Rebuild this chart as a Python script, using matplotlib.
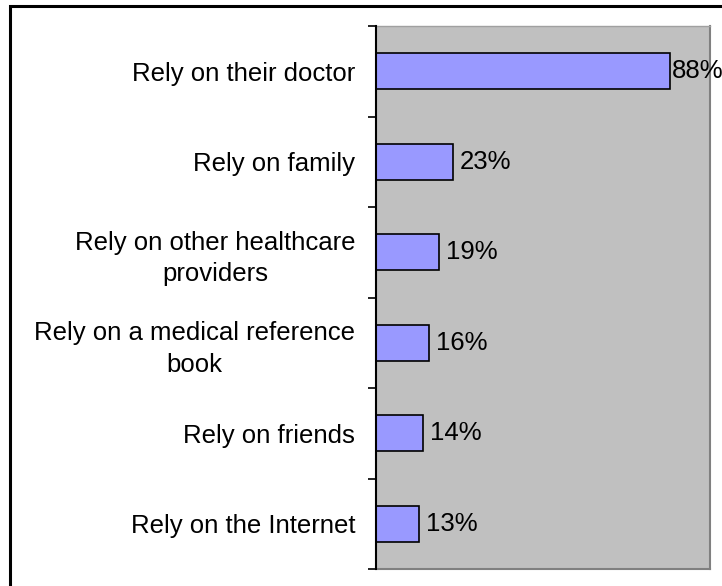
import matplotlib.pyplot as plt
import matplotlib.patches as patches
import numpy as np

plt.rcParams["font.family"] = ["Liberation Sans", "DejaVu Sans"]

# Sources people rely on for health information (share of respondents)
categories = [
    "Rely on their doctor",
    "Rely on family",
    "Rely on other healthcare\nproviders",
    "Rely on a medical reference\nbook",
    "Rely on friends",
    "Rely on the Internet",
]
shares = [0.88, 0.23, 0.19, 0.16, 0.14, 0.13]
share_labels = ["88%", "23%", "19%", "16%", "14%", "13%"]

W, H = 722, 586
fig = plt.figure(figsize=(W / 100, H / 100), dpi=100)

# outer chart frame (runs past the right/bottom edge)
fig.patches.append(patches.Rectangle((10 / W, -0.1), 1.2, 1 - 6 / H + 0.1,
                                     transform=fig.transFigure, fill=False,
                                     edgecolor="black", lw=2.2))

ax = fig.add_axes([376 / W, 1 - 569 / H, (710 - 376) / W, (569 - 26) / H])
ax.set_facecolor("#C0C0C0")

n = len(categories)
y = np.arange(n)[::-1]
ax.barh(y, shares, height=0.4, color="#9999FF", edgecolor="black", lw=1.2,
        zorder=3)
for yi, v, lab in zip(y, shares, share_labels):
    # long bars: tuck the label in close so it stays on the canvas
    dx = 1.5 if v > 0.8 else 5
    ax.annotate(lab, (v, yi), xytext=(dx, 0), textcoords="offset points",
                va="center", ha="left", fontsize=18.5, zorder=4)

ax.set_xlim(0, 1.0)
ax.set_ylim(-0.5, n - 0.5)
ax.set_xticks([])

ax.set_yticks(y)
ax.set_yticklabels(categories, fontsize=18.5, ha="right",
                   multialignment="center", linespacing=1.4)
ax.tick_params(axis="y", which="major", length=0, pad=15)
ax.set_yticks(np.arange(n + 1) - 0.5, minor=True)
ax.tick_params(axis="y", which="minor", length=6, width=1.2, color="black",
               direction="out")

ax.spines["left"].set_color("black")
ax.spines["left"].set_linewidth(1.5)
ax.spines["left"].set_zorder(5)
for s in ("right", "bottom"):
    ax.spines[s].set_color("#808080")
    ax.spines[s].set_linewidth(1.5)
ax.spines["top"].set_color("#A0A0A0")
ax.spines["top"].set_linewidth(1.0)

fig.savefig("out.png", dpi=100)
